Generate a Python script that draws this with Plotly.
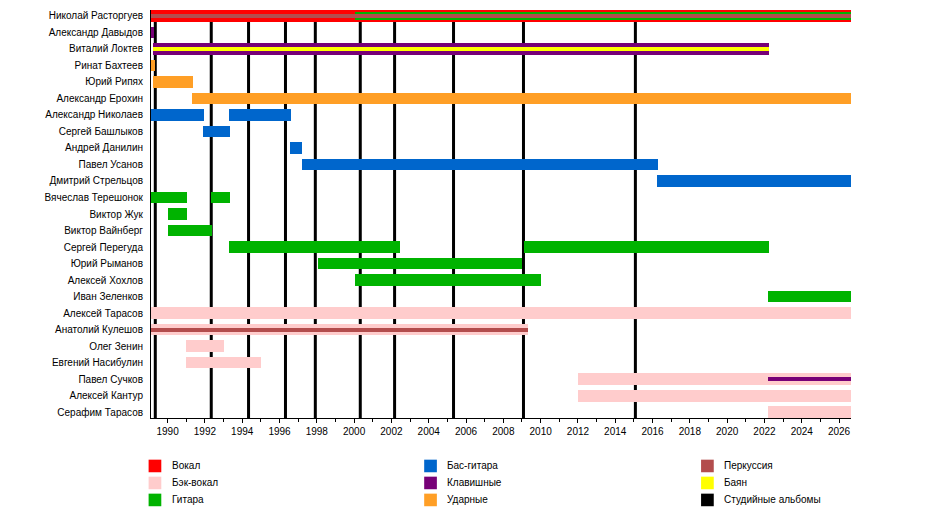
import plotly.graph_objects as go

START = 1989.11
END = 2026.64

members = [
    "Николай Расторгуев", "Александр Давыдов", "Виталий Локтев", "Ринат Бахтеев",
    "Юрий Рипях", "Александр Ерохин", "Александр Николаев", "Сергей Башлыков",
    "Андрей Данилин", "Павел Усанов", "Дмитрий Стрельцов", "Вячеслав Терешонок",
    "Виктор Жук", "Виктор Вайнберг", "Сергей Перегуда", "Юрий Рыманов",
    "Алексей Хохлов", "Иван Зеленков", "Алексей Тарасов", "Анатолий Кулешов",
    "Олег Зенин", "Евгений Насибулин", "Павел Сучков", "Алексей Кантур",
    "Серафим Тарасов",
]

# (member, from, to) per instrument, in fractional years
vocal = [("Николай Расторгуев", START, END)]
bvocal = [
    ("Алексей Тарасов", START, END),
    ("Анатолий Кулешов", START, 2009.33),
    ("Олег Зенин", 1991.0, 1993.04),
    ("Евгений Насибулин", 1991.0, 1995.02),
    ("Павел Сучков", 2012.0, END),
    ("Алексей Кантур", 2012.0, END),
    ("Серафим Тарасов", 2022.19, END),
]
guitar = [
    ("Николай Расторгуев", 2000.06, END),
    ("Вячеслав Терешонок", START, 1991.06),
    ("Вячеслав Терешонок", 1992.34, 1993.36),
    ("Виктор Жук", 1990.0, 1991.06),
    ("Виктор Вайнберг", 1990.0, 1992.40),
    ("Сергей Перегуда", 1993.31, 2002.44),
    ("Сергей Перегуда", 2009.12, 2022.25),
    ("Юрий Рыманов", 1998.08, 2009.02),
    ("Алексей Хохлов", 2000.06, 2010.03),
    ("Иван Зеленков", 2022.19, END),
]
bass = [
    ("Александр Николаев", START, 1991.97),
    ("Александр Николаев", 1993.31, 1996.63),
    ("Сергей Башлыков", 1991.92, 1993.36),
    ("Андрей Данилин", 1996.58, 1997.22),
    ("Павел Усанов", 1997.22, 2016.30),
    ("Дмитрий Стрельцов", 2016.24, END),
]
keys = [
    ("Александр Давыдов", START, 1989.29),
    ("Виталий Локтев", 1989.23, 2022.25),
    ("Павел Сучков", 2022.19, END),
]
drums = [
    ("Ринат Бахтеев", START, 1989.30),
    ("Юрий Рипях", 1989.23, 1991.38),
    ("Александр Ерохин", 1991.32, END),
]
percussion = [
    ("Николай Расторгуев", START, END),
    ("Анатолий Кулешов", START, 2009.33),
]
bayan = [("Виталий Локтев", 1989.23, 2022.25)]

albums = [1989.34, 1992.34, 1994.34, 1996.32, 1997.92,
          2000.33, 2002.17, 2005.33, 2009.08, 2015.08]

roles = [
    ("Вокал", vocal, "#ff0000"),
    ("Бэк-вокал", bvocal, "#ffcccc"),
    ("Гитара", guitar, "#00b300"),
    ("Бас-гитара", bass, "#0066cc"),
    ("Клавишные", keys, "#770077"),
    ("Ударные", drums, "#ff9f26"),
    ("Перкуссия", percussion, "#b34d4d"),
    ("Баян", bayan, "#ffff00"),
]
album_label = "Студийные альбомы"

# the roles each member has, in drawing order -> narrower bars on top
member_roles = {}
for label, stints, _ in roles:
    for name, _, _ in stints:
        member_roles.setdefault(name, [])
        if label not in member_roles[name]:
            member_roles[name].append(label)


def bar_width(name, label):
    r = member_roles[name]
    rank = r.index(label)
    if rank == 0:
        return 0.72
    return 0.24 * (len(r) - rank)


fig = go.Figure()
for label, stints, color in roles:
    fig.add_trace(go.Bar(
        orientation="h",
        y=[s[0] for s in stints],
        base=[s[1] for s in stints],
        x=[s[2] - s[1] for s in stints],
        width=[bar_width(s[0], label) for s in stints],
        marker=dict(color=color, line=dict(width=0)),
        name=label,
        showlegend=False,
        hoverinfo="skip",
    ))

for a in albums:
    fig.add_shape(type="line", xref="x", yref="paper", x0=a, x1=a, y0=0, y1=1,
                  line=dict(color="black", width=3), layer="below")

# plot area in page pixels (the page adds an 8px body margin)
OFF = 8
L, R, T, B = 150.7, 851.0, 10.0, 418.3


def px(x):
    return (x - L) / (R - L)


def py(y):
    return (B - y) / (B - T)


# manual legend, three columns
legend_items = [(lab, col) for lab, _, col in roles] + [(album_label, "#000000")]
col_x = [148.3, 424.0, 701.0]
row_y = [466.3, 483.3, 500.3]
for i, (lab, col) in enumerate(legend_items):
    cx = col_x[i // 3]
    cy = row_y[i % 3]
    fig.add_shape(type="rect", xref="paper", yref="paper",
                  x0=px(cx), x1=px(cx + 12.7), y0=py(cy - 6.3), y1=py(cy + 6.3),
                  fillcolor=col, line=dict(width=0))
    fig.add_annotation(xref="paper", yref="paper", x=px(cx + 21), y=py(cy),
                       text=lab, showarrow=False, xanchor="left", yanchor="middle",
                       font=dict(size=10, color="black"))

fig.update_layout(
    width=950,
    height=528,
    margin=dict(l=L - OFF, r=950 - R + OFF, t=T - OFF, b=528 - B + OFF, pad=0),
    plot_bgcolor="white",
    paper_bgcolor="white",
    barmode="overlay",
    bargap=0,
    showlegend=False,
    font=dict(family="Liberation Sans, Arial, sans-serif", size=10, color="black"),
)
fig.update_xaxes(
    range=[START, END],
    showgrid=False, zeroline=False,
    showline=True, linecolor="black", linewidth=1,
    ticks="outside", ticklen=4, tickcolor="black",
    tick0=1990, dtick=2,
    minor=dict(ticks="outside", ticklen=3, tickcolor="black", dtick=1, tick0=1990),
    tickfont=dict(size=10),
)
fig.update_yaxes(
    type="category",
    categoryorder="array", categoryarray=members,
    range=[len(members) - 1 + 0.36, -0.36],
    showgrid=False, zeroline=False,
    showline=True, linecolor="black", linewidth=1,
    ticks="", ticklabelstandoff=5,
    tickfont=dict(size=10),
)

fig.write_html("out.html")
